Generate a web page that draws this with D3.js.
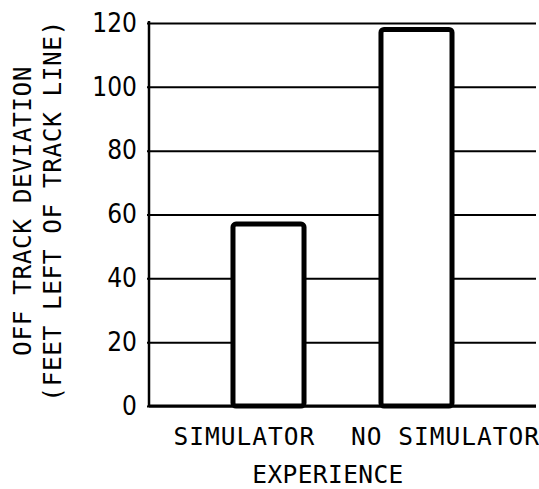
<!DOCTYPE html>
<html>
<head>
<meta charset="utf-8">
<script src="https://cdn.jsdelivr.net/npm/d3@7"></script>
<style>
  html, body { margin: 0; padding: 0; background: #fff; }
  svg { display: block; }
</style>
</head>
<body>
<script>
const categories = ["SIMULATOR", "NO SIMULATOR"];
const values = [57, 118];
const yTicks = [0, 20, 40, 60, 80, 100, 120];
const yTitleLines = ["OFF TRACK DEVIATION", "(FEET LEFT OF TRACK LINE)"];
const xTitle = "EXPERIENCE";

const W = 539, H = 489;
const mLeft = 149, mRight = 536, mTop = 23, mBottom = 406;

const svg = d3.select("body").append("svg").attr("width", W).attr("height", H);

const y = d3.scaleLinear().domain([0, 120]).range([mBottom, mTop]);
const x = d3.scaleBand().domain(categories).range([mLeft, mRight])
  .paddingInner(0.52).paddingOuter(0.5675).align(0.5);

const monoFont = "'DejaVu Sans Mono', monospace";
const numFont = "'DejaVu Sans Condensed', 'Liberation Sans Narrow', sans-serif";

// gridlines via axis
const yAxis = d3.axisLeft(y).tickValues(yTicks).tickSize(-(mRight - mLeft)).tickPadding(12).tickFormat(d3.format("d"));
const gy = svg.append("g").attr("transform", `translate(${mLeft},0)`).call(yAxis);
gy.select(".domain").remove();
gy.selectAll(".tick line").attr("stroke", "#000").attr("stroke-width", 2).attr("x1", -2);
gy.selectAll(".tick text").attr("font-family", numFont).attr("font-size", 26).attr("fill", "#000");

// left axis line
svg.append("line").attr("x1", mLeft).attr("x2", mLeft).attr("y1", mTop - 2).attr("y2", mBottom + 1)
  .attr("stroke", "#000").attr("stroke-width", 2.5);
// bottom axis line thicker
svg.append("line").attr("x1", mLeft).attr("x2", mRight).attr("y1", y(0)).attr("y2", y(0))
  .attr("stroke", "#000").attr("stroke-width", 3);

// bars
svg.append("g").selectAll("rect").data(categories).join("rect")
  .attr("x", d => x(d))
  .attr("width", x.bandwidth())
  .attr("y", (d, i) => y(values[i]))
  .attr("height", (d, i) => y(0) - y(values[i]))
  .attr("rx", 3)
  .attr("fill", "#fff")
  .attr("stroke", "#000")
  .attr("stroke-width", 5);

// x category labels (offset from bar centres as in the original)
const labelShift = [-24, 29];
svg.append("g").selectAll("text").data(categories).join("text")
  .attr("x", (d, i) => x(d) + x.bandwidth() / 2 + labelShift[i])
  .attr("y", 445)
  .attr("text-anchor", "middle")
  .attr("font-family", monoFont).attr("font-size", 24.5)
  .attr("letter-spacing", 1.0).attr("fill", "#000")
  .text(d => d);

// x title
svg.append("text").attr("x", 328).attr("y", 483).attr("text-anchor", "middle")
  .attr("font-family", monoFont).attr("font-size", 24.5).attr("letter-spacing", 0.4).attr("fill", "#000")
  .text(xTitle);

// y title
const yt = svg.append("g");
yTitleLines.forEach((t, i) => {
  yt.append("text")
    .attr("transform", `translate(${31 + i * 30},211) rotate(-90)`)
    .attr("text-anchor", "middle")
    .attr("font-family", monoFont).attr("font-size", 24.5).attr("letter-spacing", 0.5)
    .attr("fill", "#000").text(t);
});
</script>
</body>
</html>
